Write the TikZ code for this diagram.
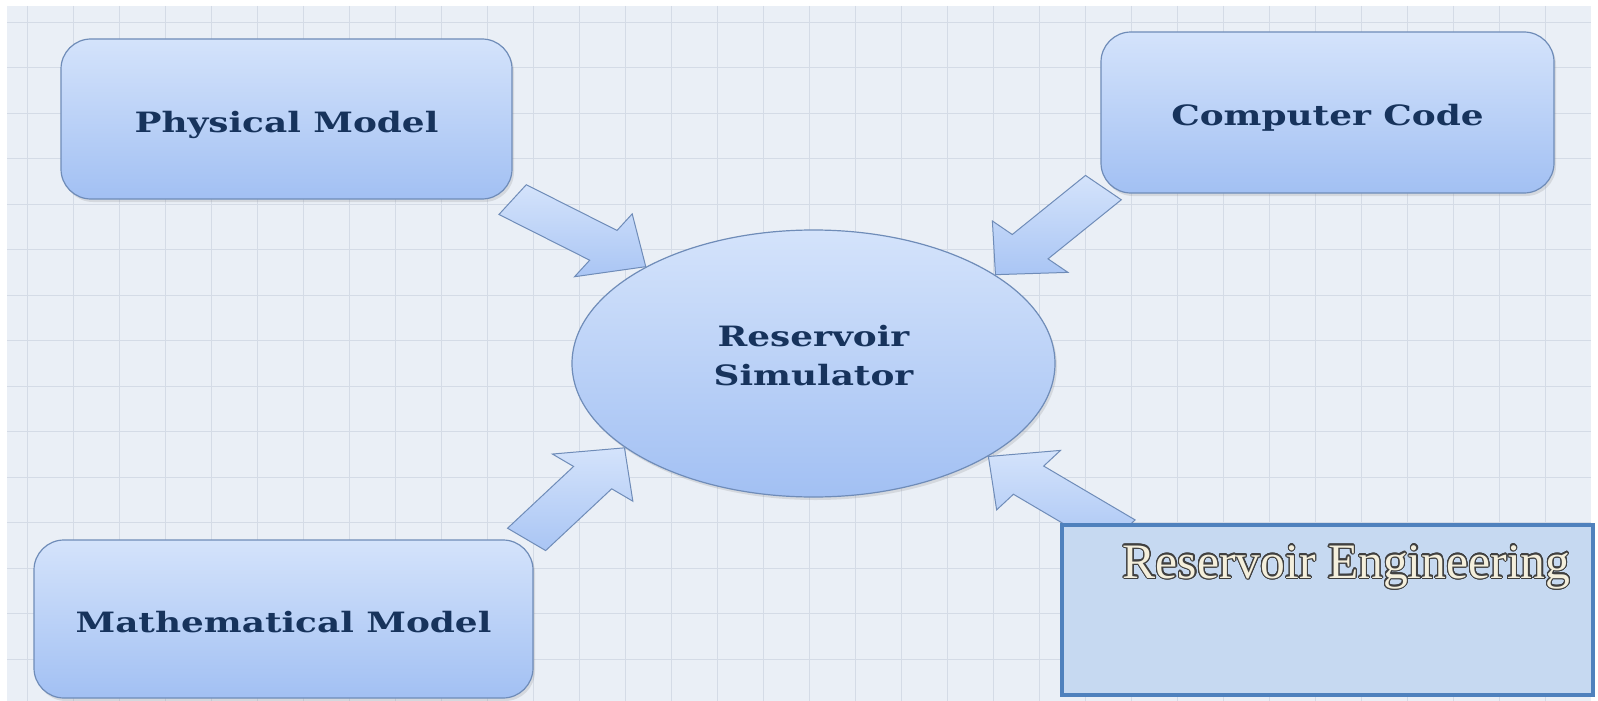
\documentclass[tikz,border=0pt]{standalone}
\usepackage{fontspec}
\usepackage{contour}
\usetikzlibrary{calc,shapes.geometric,shadows}
\newfontfamily\boxfont{DejaVu Serif}[FakeStretch=1.28]
\newfontfamily\engfont{Liberation Serif}
\contourlength{1.1pt}
\contournumber{24}
\definecolor{paper}{HTML}{EAEFF6}
\definecolor{gridline}{HTML}{D4DBE6}
\definecolor{boxtop}{HTML}{D4E3FB}
\definecolor{boxbot}{HTML}{A2C0F3}
\definecolor{boxline}{HTML}{6F8CB8}
\definecolor{navy}{HTML}{17335C}
\definecolor{engfill}{HTML}{C6D9F1}
\definecolor{engline}{HTML}{4F81BD}
\definecolor{cream}{HTML}{F4EFDC}
\tikzset{
  blueshape/.style = {draw=boxline, line width=1.2pt,
    top color=boxtop, bottom color=boxbot, text=navy, align=center,
    font=\boxfont\bfseries\fontsize{28}{39}\selectfont,
    drop shadow={opacity=.2, shadow xshift=2pt, shadow yshift=-3pt}},
  modelbox/.style = {blueshape, rounded corners=30pt, text height=26pt, text depth=0pt},
  simnode/.style = {blueshape, ellipse, text depth=17pt},
  fatarrow/.style = {draw=boxline, line width=1pt, top color=boxtop,
    bottom color=boxbot!85!boxtop},
  engbox/.style = {draw=engline, line width=4pt, fill=engfill},
}
% block arrow from tail #1 to tip #2, drawn unstretched then widened
\newcommand{\blockarrow}[2]{%
  \path let \p1=(#1), \p2=(#2) in
    \pgfextra{%
      \pgfmathsetmacro\arrang{atan2(\y2-\y1,(\x2-\x1)/1.35)}%
      \pgfmathsetmacro\arrlen{veclen((\x2-\x1)/1.35,\y2-\y1)}%
      \xdef\arrang{\arrang}\xdef\arrlen{\arrlen}};
  \begin{scope}[shift={(#1)}, xscale=1.35, rotate=\arrang, x=1pt, y=1pt]
    \draw[fatarrow] (0,18) -- (\arrlen-38,18) -- (\arrlen-38,38) -- (\arrlen,0)
      -- (\arrlen-38,-38) -- (\arrlen-38,-18) -- (0,-18) -- cycle;
  \end{scope}
}

\begin{document}
\begin{tikzpicture}[x=1pt,y=-1pt]
\useasboundingbox (0,0) rectangle (1598,701);
% grid paper
\fill[paper] (7,6) rectangle (1591,701);
\foreach \gx in {27,73,...,1590}
  \draw[gridline, line width=.8pt] (\gx,6) -- (\gx,701);
\foreach \gy in {22,67.5,...,701}
  \draw[gridline, line width=.8pt] (7,\gy) -- (1591,\gy);

\node[modelbox, minimum width=451pt, minimum height=160pt] (phys) at (286.5,119) {Physical Model};
\node[modelbox, minimum width=453pt, minimum height=161pt] (code) at (1327.5,112.5) {Computer Code};
\node[modelbox, minimum width=499pt, minimum height=158pt] (math) at (283.5,619) {Mathematical Model};
\node[simnode, minimum width=483pt, minimum height=267pt] (sim) at (813.5,363.5) {Reservoir\\Simulator};

\coordinate (codetail) at ($(code.south west)+(3,-6)$);
\coordinate (mathtail) at ($(math.north east)+(-7,0)$);
\coordinate (engtail) at (1120,534);
\blockarrow{phys.south east}{sim.150}
\blockarrow{codetail}{sim.26}
\blockarrow{mathtail}{sim.204}
\blockarrow{engtail}{sim.332}

\node[engbox, minimum width=531pt, minimum height=170pt] (eng) at (1327.5,610) {};
\node[anchor=base east, font=\engfont\fontsize{49.6}{55}\selectfont] (engtitle)
  at ($(eng.north east)+(-21,55)$) {\textcolor{cream}{\contour{black!75}{Reservoir Engineering}}};
\end{tikzpicture}
\end{document}
